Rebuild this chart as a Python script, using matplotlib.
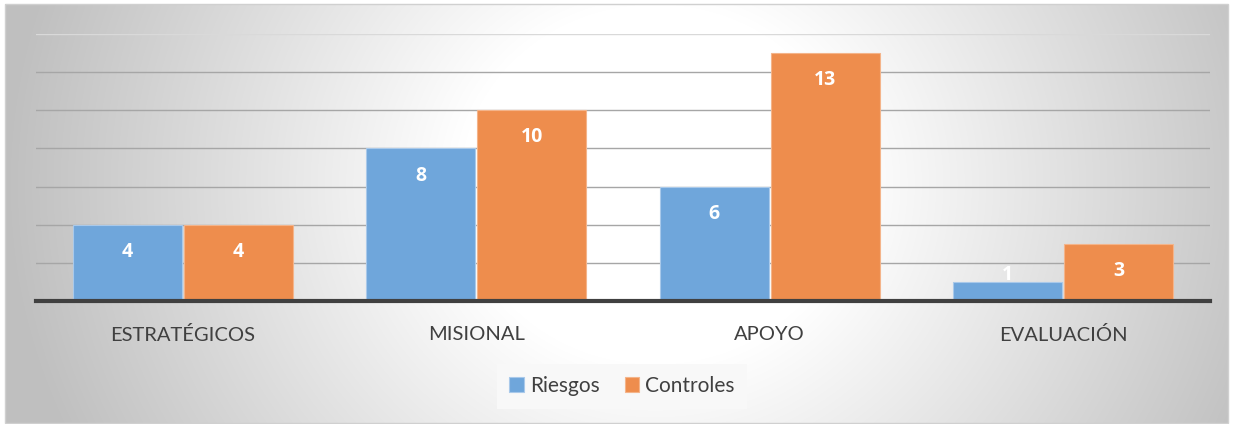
import numpy as np
import matplotlib
matplotlib.use("Agg")
import matplotlib.pyplot as plt
from matplotlib.patches import Rectangle

# data
categories = ["ESTRATÉGICOS", "MISIONAL", "APOYO", "EVALUACIÓN"]
riesgos = [4, 8, 6, 1]
controles = [4, 10, 13, 3]

plt.rcParams['font.family'] = ['Lato', 'DejaVu Sans']

W, H = 1233, 424
fig = plt.figure(figsize=(W / 100, H / 100), dpi=100)
fig.patch.set_facecolor('white')

# background gradient (chart area)
bg = fig.add_axes([5 / W, 1 - 423 / H, 1223 / W, 419 / H])
yy, xx = np.mgrid[0:419, 0:1223]
cx, cy = 650, 180
d = np.sqrt(((xx - cx) / 650.0) ** 2 + ((yy - cy) / 600.0) ** 2)
val = 1 - 0.25 * np.clip((d - 0.3) / 0.7, 0, 1)
img = np.dstack([val, val, val])
bg.imshow(img, aspect='auto', interpolation='bilinear')
bg.set_axis_off()
fig.patches.append(Rectangle((5 / W, 1 - 423 / H), 1223 / W, 419 / H,
                             transform=fig.transFigure, fill=False,
                             edgecolor='#d0d0d0', linewidth=1, zorder=5))

# plot area
x0, x1 = 36, 1210
ytop, ybot = 34, 301
ax = fig.add_axes([x0 / W, 1 - ybot / H, (x1 - x0) / W, (ybot - ytop) / H])
ax.patch.set_alpha(0)

x = np.arange(len(categories))
w = 0.372
blue = '#6fa6db'
orange = '#ee8d4d'
b1 = ax.bar(x - w / 2 - 0.003, riesgos, w, color=blue, edgecolor='#a9c9ea', linewidth=0.8, zorder=3)
b2 = ax.bar(x + w / 2 + 0.003, controles, w, color=orange, edgecolor='#f4b48a', linewidth=0.8, zorder=3)

# labels sit just inside the bar end, kept above the axis for short bars
for bars, vals in [(b1, riesgos), (b2, controles)]:
    for r, v in zip(bars, vals):
        ylab = max(v - 1.42, 1.36)
        ax.text(r.get_x() + r.get_width() / 2, ylab, str(v), ha='center', va='center',
                color='white', fontsize=14, fontweight='bold',
                family=['Open Sans', 'DejaVu Sans'], zorder=4)

ax.set_xlim(-0.5, 3.5)
ax.set_ylim(0, 14)
ax.set_yticks(np.arange(2, 15, 2))
ax.yaxis.grid(True, color='#a6a6a6', linewidth=1, zorder=0)
ax.get_ygridlines()[-1].set_color('#d9d9d9')
ax.tick_params(axis='y', left=False, labelleft=False)
ax.tick_params(axis='x', length=0, pad=18, labelsize=14.5, labelcolor='#404040')
ax.set_xticks(x)
ax.set_xticklabels(categories)
for s in ['top', 'right', 'left']:
    ax.spines[s].set_visible(False)
ax.spines['bottom'].set_color('#404040')
ax.spines['bottom'].set_linewidth(3)
ax.spines['bottom'].set_zorder(5)

leg = fig.legend(handles=[b1, b2], labels=['Riesgos', 'Controles'], loc='center',
                 bbox_to_anchor=(622 / W, 1 - 386 / H), ncol=2, frameon=True,
                 fontsize=15, handlelength=0.7, handleheight=0.7, handletextpad=0.3,
                 columnspacing=1.2, borderpad=0.6, borderaxespad=0, fancybox=False)
leg.get_frame().set_facecolor('#f8f8f8')
leg.get_frame().set_edgecolor('none')
leg.get_frame().set_alpha(1)
for t in leg.get_texts():
    t.set_color('#404040')

fig.savefig('out.png', dpi=100)
